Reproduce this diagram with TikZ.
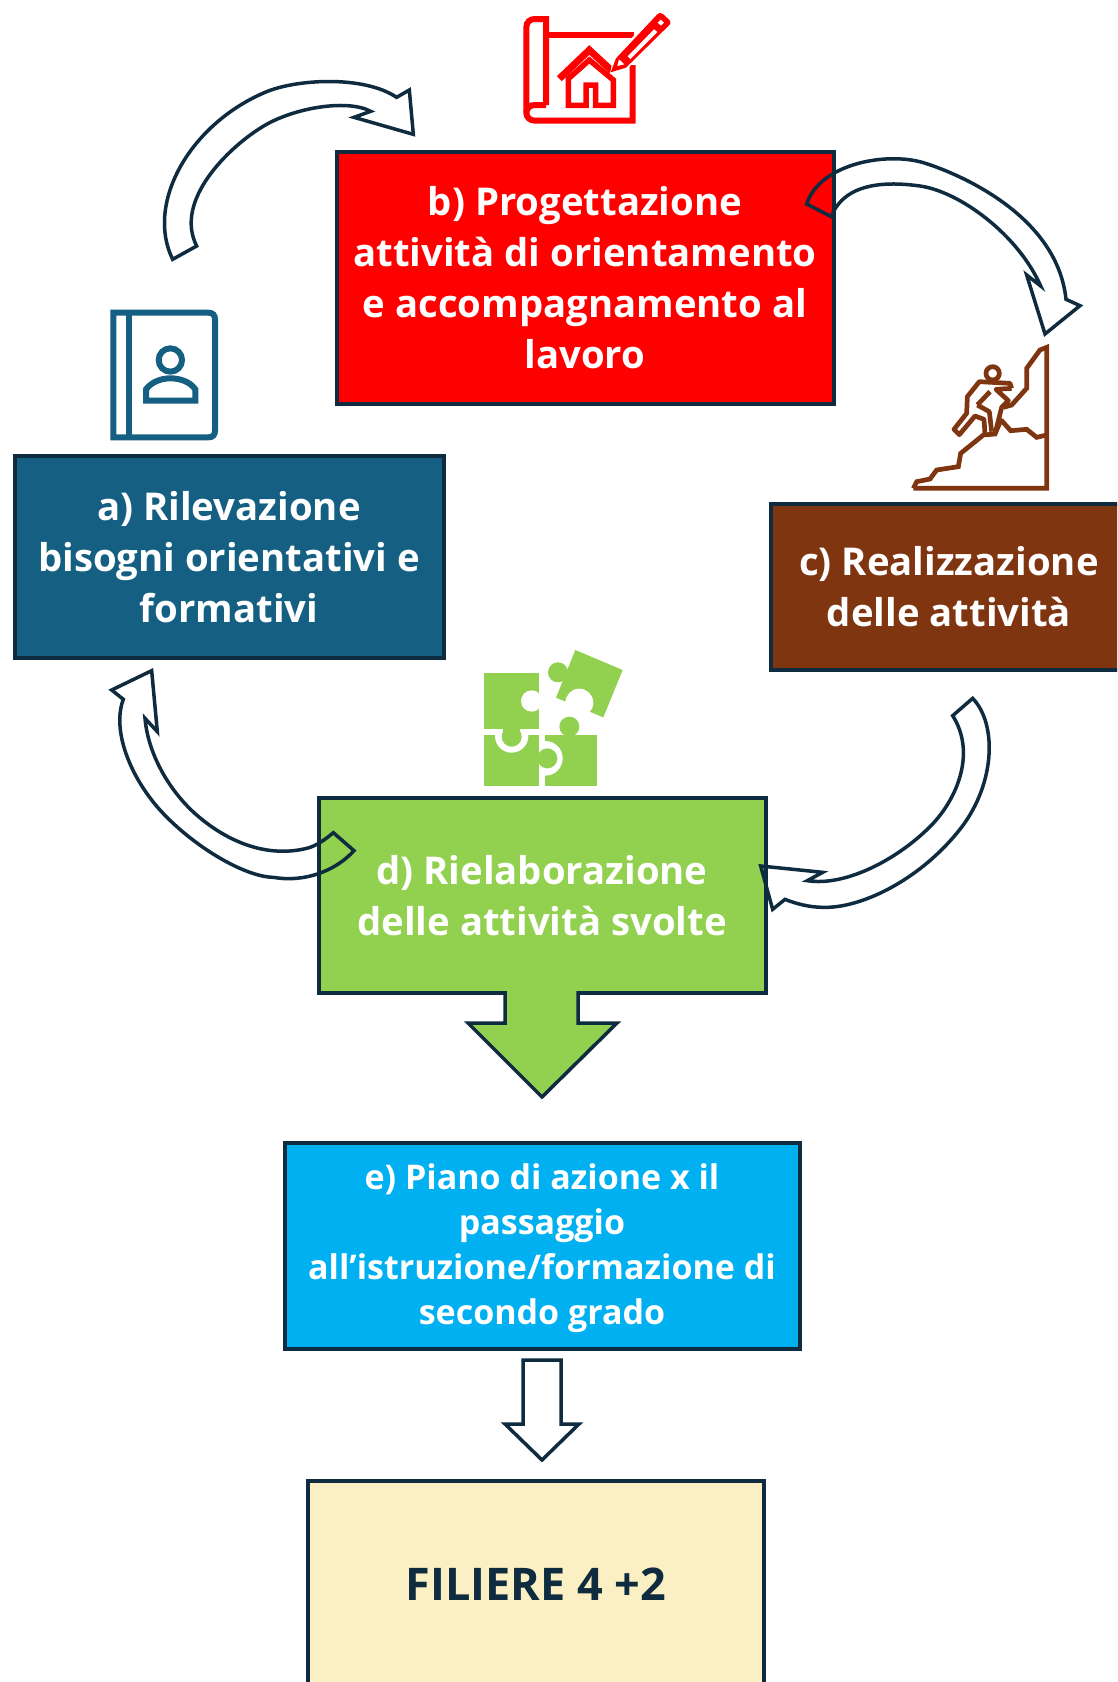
\documentclass[tikz,border=0pt]{standalone}
\usepackage{fontspec}
\setmainfont{Open Sans}[BoldFont={Open Sans Bold}]
\definecolor{navy}{HTML}{0E2B3F}
\definecolor{cA}{HTML}{156082}
\definecolor{cC}{HTML}{803511}
\definecolor{cD}{HTML}{92D050}
\definecolor{cE}{HTML}{00B0F0}
\definecolor{cF}{HTML}{FAF0C4}
\tikzset{
  boxnode/.style={draw=navy,line width=4pt,rectangle,align=center,inner sep=0pt,text=white,font=\bfseries\fontsize{38.3}{51}\selectfont},
  plain text/.style={align=center,inner sep=0pt,text=white,font=\bfseries\fontsize{34}{45}\selectfont},
  block/.style={draw=navy,line width=3.5pt,line join=miter},
  at3/.style 2 args={shift={(#1,#2)},x=0.33333pt,y=-0.33333pt},
  icon/.style={line width=6pt,line join=miter}
}
\begin{document}
\begin{tikzpicture}[x=1pt,y=-1pt]
\useasboundingbox (0,0) rectangle (1117,1682);
\clip (0,0) rectangle (1117,1682);
% boxes
\node[boxnode,fill=red,minimum width=497pt,minimum height=252pt] (b) at (585,278) {b) Progettazione\\attività di orientamento\\e accompagnamento al\\lavoro};
\node[boxnode,fill=cA,minimum width=429pt,minimum height=202pt] (a) at (229,557) {a) Rilevazione\\bisogni orientativi e\\formativi};
\node[boxnode,fill=cC,minimum width=356pt,minimum height=166pt] (c) at (949,587) {c) Realizzazione\\delle attività};
\node[boxnode,fill=cD,minimum width=447pt,minimum height=195pt] (d) at (542,895.5) {d) Rielaborazione\\delle attività svolte};
\node[boxnode,fill=cE,minimum width=515pt,minimum height=206pt] (e) at (542,1246) {};
\node[plain text] (etext) at (542,1248) {e) Piano di azione x il\\passaggio\\all’istruzione/formazione di\\secondo grado};
\node[boxnode,fill=cF,minimum width=456pt,minimum height=206pt,text=navy,font=\bfseries\fontsize{45}{48}\selectfont] (f) at (536,1584) {FILIERE 4 +2};
% big arrow d to e
\draw[block,fill=cD] (505,991) -- (505,1023) -- (468,1023) -- (542,1097) -- (617,1023) -- (578,1023) -- (578,991);
% hollow arrow e to f
\draw[block] (523,1360) -- (561,1360) -- (561,1424) -- (579,1424) -- (542,1460) -- (505,1424) -- (523,1424) -- cycle;
% curved arrow a to b
\begin{scope}[at3={150}{70}]
\draw[block] (68,568) .. controls (-15,400) and (120,160) .. (350,65) .. controls (440,28) and (640,15) .. (740,82) -- (778,60) -- (790,193) -- (612,142) -- (662,124) .. controls (590,85) and (420,115) .. (330,175) .. controls (240,231) and (70,390) .. (140,528) -- cycle;
\end{scope}
% curved arrow b to c
\begin{scope}[at3={780}{140}]
\draw[block] (80,192) .. controls (120,70) and (320,35) .. (430,68) .. controls (500,89) and (830,210) .. (858,478) -- (900,497) -- (795,582) -- (740,405) -- (782,438) .. controls (715,285) and (540,155) .. (420,138) .. controls (340,127) and (205,120) .. (158,220) -- (158,232) -- cycle;
\end{scope}
% curved arrow c to d
\begin{scope}[at3={750}{690}]
\draw[block] (668,25) .. controls (745,105) and (735,295) .. (620,430) .. controls (500,575) and (330,655) .. (220,652) .. controls (180,652) and (140,642) .. (105,628) -- (68,658) -- (32,528) -- (218,547) -- (172,572) .. controls (285,590) and (440,510) .. (540,410) .. controls (620,330) and (680,190) .. (608,77) -- cycle;
\end{scope}
% curved arrow d to a
\begin{scope}[at3={100}{660}]
\draw[block] (700,518) -- (762,572) .. controls (705,635) and (610,668) .. (520,652) .. controls (430,650) and (275,555) .. (180,450) .. controls (90,350) and (35,210) .. (70,118) -- (35,90) -- (155,32) -- (172,215) -- (135,175) .. controls (145,290) and (215,400) .. (290,465) .. controls (370,535) and (490,597) .. (620,565) .. controls (650,558) and (680,535) .. (700,518) -- cycle;
\end{scope}
% icon: plan
\begin{scope}[at3={500}{0},icon,draw=red]
\draw (138,315) -- (138,57) -- (105,57) .. controls (90,57) and (79,66) .. (79,82) -- (79,338) .. controls (79,352) and (90,362) .. (105,362) -- (398,362) -- (398,195);
\draw (138,315) -- (105,315) .. controls (90,315) and (79,325) .. (79,338);
\draw (138,106) -- (402,106);
\draw[line width=7pt] (178,236) -- (268,150) -- (335,212);
\draw[line width=5.5pt] (205,236) -- (205,316) -- (258,316) -- (258,255) -- (287,255) -- (287,316) -- (340,316) -- (340,240) -- (268,180) -- cycle;
\fill[white] (340,170) -- (478,30) -- (520,68) -- (380,208) -- (330,222) -- cycle;
\fill[red] (348,175) -- (470,45) .. controls (478,37) and (484,37) .. (490,43) -- (506,58) .. controls (513,65) and (513,70) .. (506,77) -- (378,203) -- (332,217) -- cycle;
\fill[white] (383,169) -- (462,88) -- (472,96) -- (391,177) -- cycle;
\fill[white] (473,68) -- (482,59) -- (492,68) -- (483,77) -- cycle;
\fill[white] (357,178) -- (373,193) -- (352,198) -- cycle;
\end{scope}
% icon: book
\begin{scope}[at3={90}{290},icon,draw=cA]
\draw (70,68) -- (355,68) .. controls (368,68) and (375,75) .. (375,88) -- (375,422) .. controls (375,435) and (368,442) .. (355,442) -- (70,442) -- cycle;
\draw (118,68) -- (118,442);
\draw (241,210) circle[radius=35];
\draw (168,332) -- (168,298) .. controls (185,275) and (215,265) .. (241,265) .. controls (270,265) and (300,275) .. (316,298) -- (316,332) -- cycle;
\end{scope}
% icon: climber
\begin{scope}[at3={890}{330},line width=4.7pt,line join=miter,draw=cC]
\draw (70,475) -- (470,475) -- (470,52) -- (450,60) -- (410,115) -- (410,175) -- (365,225) -- (340,232);
\draw (70,475) -- (80,455) -- (120,447) -- (140,420) -- (205,410) -- (212,370) -- (280,315) -- (315,312) -- (335,265);
\draw (470,315) -- (440,322) -- (410,298) -- (362,302) -- (335,272);
\draw (308,130) circle[radius=20];
\draw[line join=round] (365,175) -- (360,160) -- (268,155) -- (232,200) -- (230,250) -- (192,298) -- (208,314) -- (255,258) -- (282,268) -- (285,312);
\draw[line join=round] (365,175) -- (318,178) -- (355,212) -- (335,232) -- (315,312);
\draw[line join=round] (262,225) -- (298,245) -- (305,305);
\draw[line join=round] (262,225) -- (300,185);
\end{scope}
% icon: puzzle
\begin{scope}[at3={460}{630}]
\fill[cD] (72,130) rectangle (238,296);
\fill[white] (215,213) circle[radius=32];
\fill[cD] (72,315) rectangle (238,468);
\fill[cD] (256,315) rectangle (410,468);
\begin{scope}
\clip (72,315) rectangle (238,468);
\fill[white] (155,318) circle[radius=50];
\end{scope}
\fill[cD] (155,320) circle[radius=30];
\fill[cD] (130,290) rectangle (180,320);
\begin{scope}
\clip (238,315) rectangle (410,468);
\fill[white] (256,385) circle[radius=52];
\end{scope}
\fill[cD] (262,385) circle[radius=30];
\fill[cD] (346,60) -- (488,120) -- (430,262) -- (288,203) -- cycle;
\fill[cD] (294,127) circle[radius=30];
\fill[white] (358,218) circle[radius=42];
\fill[cD] (328,290) circle[radius=30];
\end{scope}
\end{tikzpicture}
\end{document}
